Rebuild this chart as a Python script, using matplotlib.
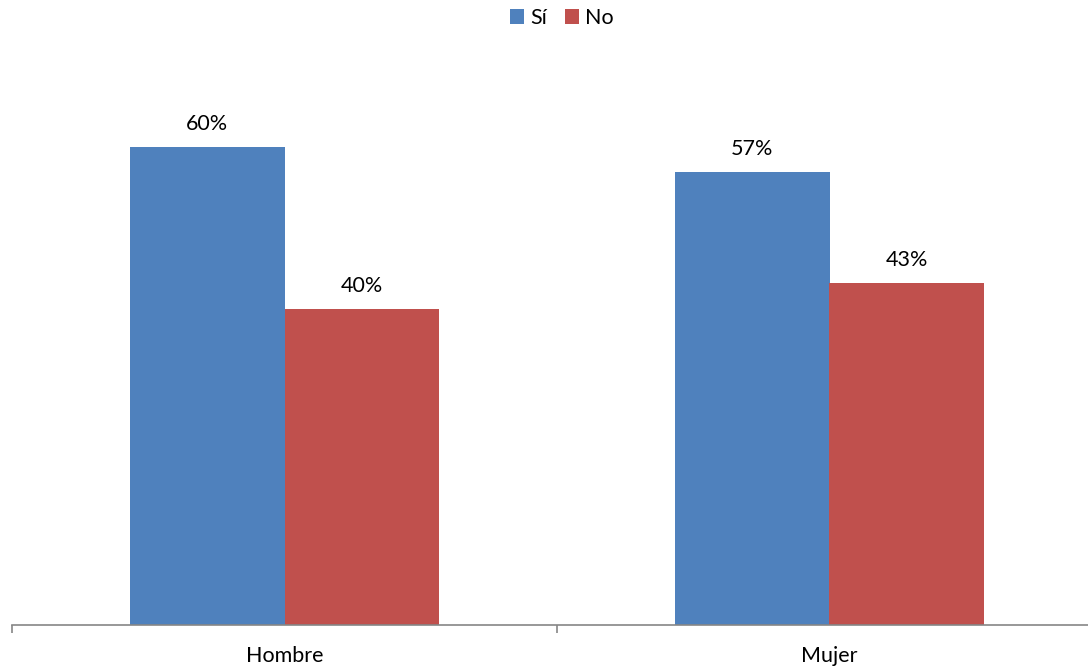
import matplotlib.pyplot as plt
from matplotlib.patches import Patch
import numpy as np

# Data
categories = ["Hombre", "Mujer"]
series_names = ["Sí", "No"]
si_values = [60.2, 57.0]
no_values = [39.8, 43.0]
si_labels = ["60%", "57%"]
no_labels = ["40%", "43%"]

BLUE = "#4F81BD"
RED = "#C0504D"
AXIS_GREY = "#868686"

plt.rcParams["font.family"] = ["Lato", "DejaVu Sans"]

fig = plt.figure(figsize=(10.88, 6.70), dpi=100)
# axes spans past the right edge like the original export
ax = fig.add_axes([12 / 1088, 45 / 670, 1090 / 1088, 556 / 670])

x = np.arange(len(categories))
w = 0.2844

bars_si = ax.bar(x - w / 2, si_values, width=w, color=BLUE, label=series_names[0])
bars_no = ax.bar(x + w / 2, no_values, width=w, color=RED, label=series_names[1])

for bars, labels in [(bars_si, si_labels), (bars_no, no_labels)]:
    for b, lab in zip(bars, labels):
        ax.annotate(lab, (b.get_x() + b.get_width() / 2, b.get_height()),
                    xytext=(0, 9.5), textcoords="offset points",
                    ha="center", va="bottom", fontsize=15.5, color="black")

ax.set_xlim(-0.5, len(categories) - 0.5)
ax.set_ylim(0, 70)

for side in ["top", "right", "left"]:
    ax.spines[side].set_visible(False)
ax.spines["bottom"].set_color(AXIS_GREY)
ax.spines["bottom"].set_linewidth(1.2)

# tick marks on category boundaries, labels at the centres
ax.set_xticks(np.arange(len(categories) + 1) - 0.5)
ax.set_xticklabels([])
ax.tick_params(axis="x", which="major", direction="out", length=6,
               width=1.2, color=AXIS_GREY)
ax.set_xticks(x, minor=True)
ax.set_xticklabels(categories, minor=True, fontsize=15.5)
ax.tick_params(axis="x", which="minor", length=0, pad=15)
ax.set_yticks([])

handles = [Patch(facecolor=BLUE), Patch(facecolor=RED)]
fig.legend(handles, series_names, loc="center", bbox_to_anchor=(562 / 1088, 1 - 18 / 670),
           ncol=2, frameon=False, fontsize=15.5, handlelength=0.65, handleheight=0.65,
           handletextpad=0.3, columnspacing=0.8)

fig.savefig("out.png", dpi=100, facecolor="white")
